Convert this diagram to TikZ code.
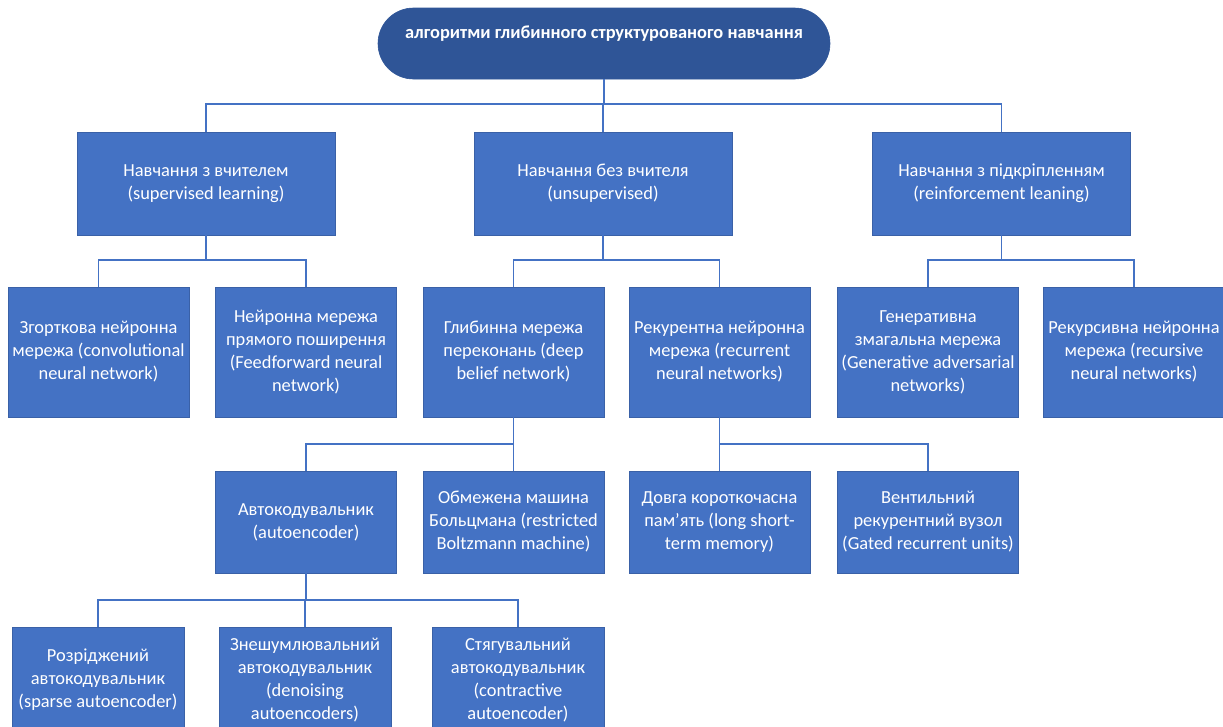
\documentclass[tikz,border=0pt]{standalone}
\usepackage{fontspec}
\setmainfont{Carlito}
\definecolor{boxblue}{HTML}{4472C4}
\definecolor{rootblue}{HTML}{2F5597}
\definecolor{lineblue}{HTML}{4472C4}
\begin{document}
\begin{tikzpicture}[x=1pt,y=-1pt,
  box/.style={rectangle, fill=boxblue, draw=boxblue!85!black, line width=0.6pt,
    text=white, align=center, inner sep=0pt, font=\fontsize{18.4}{23}\selectfont},
  lone/.style={box, minimum width=258pt, minimum height=103pt},
  ltwo/.style={box, minimum width=181pt, minimum height=130pt},
  lthree/.style={box, minimum width=181pt, minimum height=102pt},
  lfour/.style={box, minimum width=172pt, minimum height=106pt},
  rootbox/.style={box, fill=rootblue, draw=rootblue, rounded corners=35.5pt,
    minimum width=452pt, minimum height=71pt, font=\fontsize{18.4}{23}\selectfont\bfseries},
  conn/.style={draw=lineblue, line width=1.4pt}]
\path[use as bounding box] (0,0) rectangle (1223,726);
\clip (0,0) rectangle (1223,726);

\node[rootbox] (root) at (604,43.5) {алгоритми глибинного структурованого навчання\\\mbox{}};

\node[lone] (sup)  at (206,183.5) {Навчання з вчителем\\(supervised learning)};
\node[lone] (uns)  at (603,183.5) {Навчання без вчителя\\(unsupervised)};
\node[lone] (rein) at (1001.5,183.5) {Навчання з підкріпленням\\(reinforcement leaning)};

\node[ltwo] (cnn) at (98.5,352) {Згорткова нейронна\\мережа (convolutional\\neural network)};
\node[ltwo] (ff)  at (306,352) {Нейронна мережа\\прямого поширення\\(Feedforward neural\\network)};
\node[ltwo] (dbn) at (513.5,352) {Глибинна мережа\\переконань (deep\\belief network)};
\node[ltwo] (rnn) at (719.5,352) {Рекурентна нейронна\\мережа (recurrent\\neural networks)};
\node[ltwo] (gan) at (928,352) {Генеративна\\змагальна мережа\\(Generative adversarial\\networks)};
\node[ltwo] (rec) at (1134,352) {Рекурсивна нейронна\\мережа (recursive\\neural networks)};

\node[lthree] (ae)   at (306,522) {Автокодувальник\\(autoencoder)};
\node[lthree] (rbm)  at (513.5,522) {Обмежена машина\\Больцмана (restricted\\Boltzmann machine)};
\node[lthree] (lstm) at (719.5,522) {Довга короткочасна\\пам’ять (long short-\\term memory)};
\node[lthree] (gru)  at (928,522) {Вентильний\\рекурентний вузол\\(Gated recurrent units)};

\node[lfour] (sparse)  at (98,680) {Розріджений\\автокодувальник\\(sparse autoencoder)};
\node[lfour] (denoise) at (305,680) {Знешумлювальний\\автокодувальник\\(denoising\\autoencoders)};
\node[lfour] (contr)   at (518,680) {Стягувальний\\автокодувальник\\(contractive\\autoencoder)};

\coordinate (b1) at (0,104);
\coordinate (b2) at (0,260);
\coordinate (b3) at (0,444);
\coordinate (b4) at (0,600);

\draw[conn] (root.south) -- (root.south |- b1) -| (sup.north);
\draw[conn] (root.south |- b1) -| (uns.north);
\draw[conn] (root.south |- b1) -| (rein.north);

\draw[conn] (sup.south) -- (sup.south |- b2) -| (cnn.north);
\draw[conn] (sup.south |- b2) -| (ff.north);
\draw[conn] (uns.south) -- (uns.south |- b2) -| (dbn.north);
\draw[conn] (uns.south |- b2) -| (rnn.north);
\draw[conn] (rein.south) -- (rein.south |- b2) -| (gan.north);
\draw[conn] (rein.south |- b2) -| (rec.north);

\draw[conn] (dbn.south) -- (dbn.south |- b3) -| (ae.north);
\draw[conn] (dbn.south |- b3) -| (rbm.north);
\draw[conn] (rnn.south) -- (rnn.south |- b3) -| (lstm.north);
\draw[conn] (rnn.south |- b3) -| (gru.north);

\draw[conn] (ae.south) -- (ae.south |- b4) -| (sparse.north);
\draw[conn] (ae.south |- b4) -| (denoise.north);
\draw[conn] (ae.south |- b4) -| (contr.north);
\end{tikzpicture}
\end{document}
